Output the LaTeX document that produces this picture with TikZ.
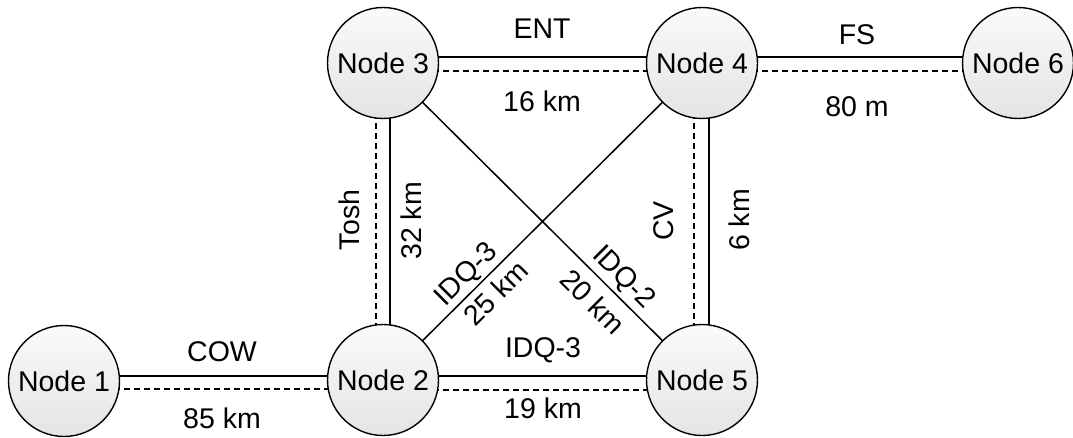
\documentclass[tikz,border=0pt]{standalone}
\usepackage{fontspec}
\setmainfont{Liberation Sans}
\usetikzlibrary{backgrounds,calc}
\definecolor{shadetop}{RGB}{250,250,250}
\definecolor{shadebot}{RGB}{228,228,228}
\tikzset{
  netnode/.style={circle, draw=black, line width=1.4pt, minimum size=111pt, inner sep=0pt,
    top color=shadetop, bottom color=shadebot, font=\fontsize{28.5}{32}\selectfont},
  link/.style={line width=1.5pt, draw=black},
  dlink/.style={line width=1.5pt, draw=black, dash pattern=on 6pt off 4pt},
  lbl/.style={font=\fontsize{28.5}{32}\selectfont, inner sep=0pt, text=black},
}
\begin{document}
\begin{tikzpicture}[x=1pt,y=-1pt]
\useasboundingbox (0,0) rectangle (1073,438);
\node[netnode] (n1) at (64,381) {Node 1};
\node[netnode] (n2) at (383,380) {Node 2};
\node[netnode] (n5) at (702,380) {Node 5};
\node[netnode] (n3) at (383,63) {Node 3};
\node[netnode] (n4) at (702,63) {Node 4};
\node[netnode] (n6) at (1018,63) {Node 6};

\begin{pgfonlayer}{background}
  % top row
  \draw[link]  ($(n3.center)+(0,-6)$) -- ($(n4.center)+(0,-6)$);
  \draw[dlink] ($(n3.center)+(0,8)$)  -- ($(n4.center)+(0,8)$);
  \draw[link]  ($(n4.center)+(0,-6)$) -- ($(n6.center)+(0,-6)$);
  \draw[dlink] ($(n4.center)+(0,8)$)  -- ($(n6.center)+(0,8)$);
  % bottom row
  \draw[link]  ($(n1.center)+(0,-5)$) -- ($(n2.center)+(0,-4)$);
  \draw[dlink] ($(n1.center)+(0,8)$)  -- ($(n2.center)+(0,9)$);
  \draw[link]  ($(n2.center)+(0,-4)$) -- ($(n5.center)+(0,-4)$);
  \draw[dlink] ($(n2.center)+(0,10)$) -- ($(n5.center)+(0,10)$);
  % verticals
  \draw[dlink] ($(n3.center)+(-7,0)$) -- ($(n2.center)+(-7,0)$);
  \draw[link]  ($(n3.center)+(7,0)$)  -- ($(n2.center)+(7,0)$);
  \draw[dlink] ($(n4.center)+(-8,0)$) -- ($(n5.center)+(-8,0)$);
  \draw[link]  ($(n4.center)+(7,0)$)  -- ($(n5.center)+(7,0)$);
\end{pgfonlayer}
% diagonals
\draw[link] (n3) -- (n5);
\draw[link] (n2) -- (n4);

% labels
\node[lbl] (lent) at (542,29) {ENT};
\node[lbl] (l16) at (542,101) {16 km};
\node[lbl] (lfs) at (857,35) {FS};
\node[lbl] (l80) at (857,107) {80 m};
\node[lbl] (lcow) at (222,352) {COW};
\node[lbl] (l85) at (222,418) {85 km};
\node[lbl] (lidqb) at (543,350) {IDQ-3};
\node[lbl] (l19) at (543,408) {19 km};
\node[lbl, rotate=90] (ltosh) at (349,220) {Tosh};
\node[lbl, rotate=90] (l32) at (411,221) {32 km};
\node[lbl, rotate=90] (lcv) at (664,221) {CV};
\node[lbl, rotate=90] (l6) at (739,220) {6 km};
\node[lbl, rotate=45] (lidq3) at (467,275) {IDQ-3};
\node[lbl, rotate=45] (l25) at (496,293) {25 km};
\node[lbl, rotate=-45] (lidq2) at (623,278) {IDQ-2};
\node[lbl, rotate=-45] (l20) at (593,302) {20 km};
\end{tikzpicture}
\end{document}
